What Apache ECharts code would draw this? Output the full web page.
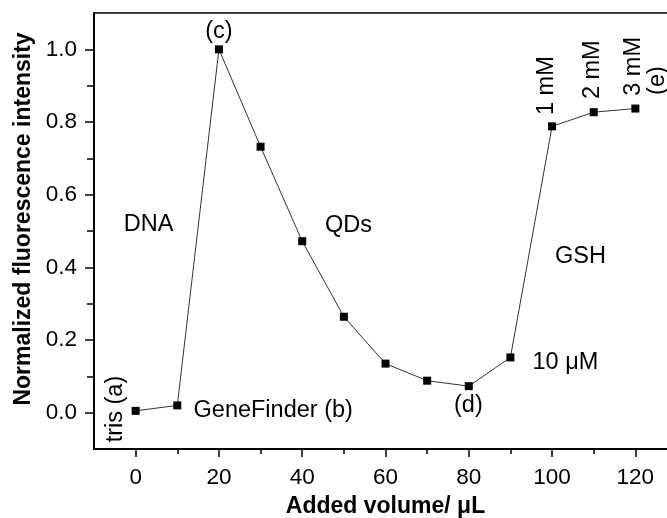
<!DOCTYPE html>
<html>
<head>
<meta charset="utf-8">
<script src="https://cdn.jsdelivr.net/npm/echarts@6/dist/echarts.min.js"></script>
<style>
  html, body { margin: 0; padding: 0; background: #fff; }
  #main { width: 667px; height: 518px; }
</style>
</head>
<body>
<div id="main"></div>
<script>
// data
var volumes = [0, 10, 20, 30, 40, 50, 60, 70, 80, 90, 100, 110, 120];
var intensity = [0.005, 0.02, 1.0, 0.732, 0.472, 0.264, 0.135, 0.088, 0.073, 0.152, 0.788, 0.827, 0.837];

// tick labels
var xMajor = [0, 20, 40, 60, 80, 100, 120];
var xMinor = [10, 30, 50, 70, 90, 110, 130];
var yMajor = [0, 0.2, 0.4, 0.6, 0.8, 1.0];
var yMinor = [0.1, 0.3, 0.5, 0.7, 0.9];

// annotations (text, x, y in data units), upright ones
var noteText = ['(c)', 'DNA', 'QDs', 'GSH', '10 \u03bcM', '(d)', 'GeneFinder (b)'];
var noteX = [20, 3.1, 51.1, 106.8, 95.3, 79.9, 13.9];
var noteY = [1.05, 0.518, 0.516, 0.43, 0.137, 0.021, 0.005];
var noteAlign = ['center', 'center', 'center', 'center', 'left', 'center', 'left'];
// rotated annotations
var vNoteText = ['tris (a)', '1 mM', '2 mM', '3 mM', '(e)'];
var vNoteX = [-4.8, 98.6, 109.7, 119.5, 125.3];
var vNoteY = [0.01, 0.90, 0.944, 0.953, 0.914];

var FONT = '"Liberation Sans", Arial, sans-serif';

var chart = echarts.init(document.getElementById('main'), null, { renderer: 'canvas' });

var notes = noteText.map(function (t, i) {
  return {
    value: [noteX[i], noteY[i]],
    label: { formatter: t, align: noteAlign[i] }
  };
});
var vNotes = vNoteText.map(function (t, i) {
  return { value: [vNoteX[i], vNoteY[i]], label: { formatter: t } };
});

var option = {
  animation: false,
  backgroundColor: '#fff',
  grid: {
    left: 94, top: 13, right: -10, bottom: 69,
    show: true, borderColor: '#000', borderWidth: 1.5,
    containLabel: false, outerBoundsMode: 'none'
  },
  xAxis: [{
    type: 'value', min: -10, max: 130, interval: 10,
    splitLine: { show: false },
    axisLine: { onZero: false, lineStyle: { color: '#000', width: 2 } },
    axisTick: { customValues: xMajor, length: 8, lineStyle: { color: '#000', width: 1.5 } },
    axisLabel: { customValues: xMajor, margin: 17, fontSize: 22.5, color: '#000', fontFamily: FONT },
    name: 'Added volume/ \u03bcL', nameLocation: 'middle', nameGap: 46,
    nameTextStyle: { fontSize: 23, fontWeight: 'bold', color: '#000', fontFamily: FONT }
  }, {
    type: 'value', min: -10, max: 130, position: 'bottom',
    splitLine: { show: false },
    axisLine: { show: false, onZero: false },
    axisTick: { customValues: xMinor, length: 5, lineStyle: { color: '#000', width: 1.5 } },
    axisLabel: { show: false }
  }],
  yAxis: [{
    type: 'value', min: -0.1, max: 1.1, interval: 0.1,
    splitLine: { show: false },
    axisLine: { onZero: false, lineStyle: { color: '#000', width: 2 } },
    axisTick: { customValues: yMajor, length: 9, lineStyle: { color: '#000', width: 1.5 } },
    axisLabel: {
      customValues: yMajor, margin: 17, fontSize: 22.5, color: '#000', fontFamily: FONT,
      formatter: function (v) { return v.toFixed(1); }
    },
    name: 'Normalized fluorescence intensity', nameLocation: 'middle', nameGap: 58,
    nameTextStyle: { fontSize: 23, fontWeight: 'bold', color: '#000', fontFamily: FONT, padding: [0, 0, 0, 24] }
  }, {
    type: 'value', min: -0.1, max: 1.1, position: 'left',
    splitLine: { show: false },
    axisLine: { show: false, onZero: false },
    axisTick: { customValues: yMinor, length: 7, lineStyle: { color: '#000', width: 1.5 } },
    axisLabel: { show: false }
  }],
  series: [{
    type: 'line',
    data: volumes.map(function (v, i) { return [v, intensity[i]]; }),
    symbol: 'rect', symbolSize: 8,
    itemStyle: { color: '#000' },
    lineStyle: { color: '#333', width: 1 },
    z: 3
  }, {
    type: 'scatter',
    data: notes,
    symbolSize: 0,
    silent: true,
    itemStyle: { opacity: 1 },
    label: {
      show: true, position: 'inside', verticalAlign: 'middle', opacity: 1,
      fontSize: 23.5, color: '#000', fontFamily: FONT
    }
  }, {
    type: 'scatter',
    data: vNotes,
    symbolSize: 0,
    silent: true,
    itemStyle: { opacity: 1 },
    label: {
      show: true, position: 'inside', rotate: 90, align: 'center', verticalAlign: 'middle', opacity: 1,
      fontSize: 23.5, color: '#000', fontFamily: FONT
    }
  }]
};

chart.setOption(option);
</script>
</body>
</html>
